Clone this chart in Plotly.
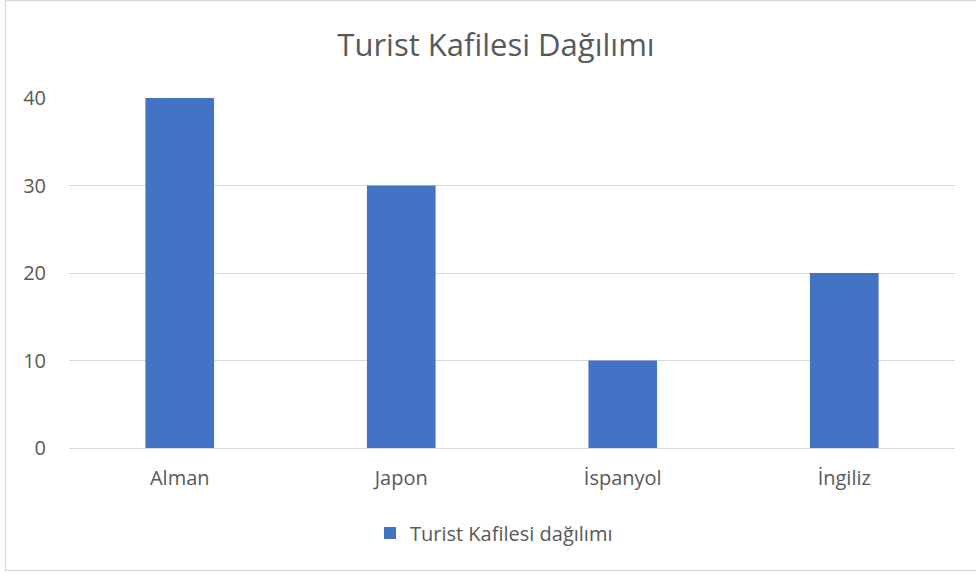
import plotly.graph_objects as go

categories = ["Alman", "Japon", "İspanyol", "İngiliz"]
values = [40, 30, 10, 20]
series_name = "Turist Kafilesi dağılımı"
title_text = "Turist Kafilesi Dağılımı"
y_ticks = [0, 10, 20, 30, 40]

W, H = 976, 574
L, R, T, B = 69, 21, 98, 126
pw, ph = W - L - R, H - T - B

def px_x(p):
    return (p - L) / pw

def px_y(p):
    return (H - B - p) / ph

font = "Open Sans, Liberation Sans, sans-serif"
txt = "#595959"

fig = go.Figure(go.Bar(
    x=categories, y=values, name=series_name,
    marker=dict(color="#4472C4", line=dict(width=0)),
    width=0.31, showlegend=True,
))

fig.update_layout(
    width=W, height=H,
    margin=dict(l=L, r=R, t=T, b=B),
    paper_bgcolor="white", plot_bgcolor="white",
    font=dict(family=font, color=txt, size=20),
    title=dict(text=title_text, x=496 / W, xanchor="center", y=1 - 45 / H, yanchor="middle",
               font=dict(size=31, color=txt, family=font)),
    showlegend=True,
    legend=dict(orientation="h", x=px_x(494), xanchor="center", y=px_y(533), yanchor="middle",
                font=dict(size=20, color=txt), itemwidth=30, traceorder="normal"),
    bargap=0.69,
    shapes=[dict(type="rect", xref="paper", yref="paper",
                 x0=px_x(5.5), x1=px_x(990), y0=px_y(570.5), y1=px_y(0.5),
                 line=dict(color="#D9D9D9", width=1.5), fillcolor="rgba(0,0,0,0)", layer="below")],
)
fig.update_xaxes(showgrid=False, showline=False, ticks="", tickfont=dict(size=20, color=txt),
                 ticklabelstandoff=16)
fig.update_yaxes(range=[0, 40], tickvals=y_ticks, showgrid=True, gridcolor="#D9D9D9", gridwidth=1,
                 zeroline=True, zerolinecolor="#D9D9D9", zerolinewidth=1, showline=False, ticks="",
                 tickfont=dict(size=20, color=txt), ticklabelstandoff=22)

fig.write_html("out.html", config={"displayModeBar": False},
               post_script="document.body.style.margin='0';")
